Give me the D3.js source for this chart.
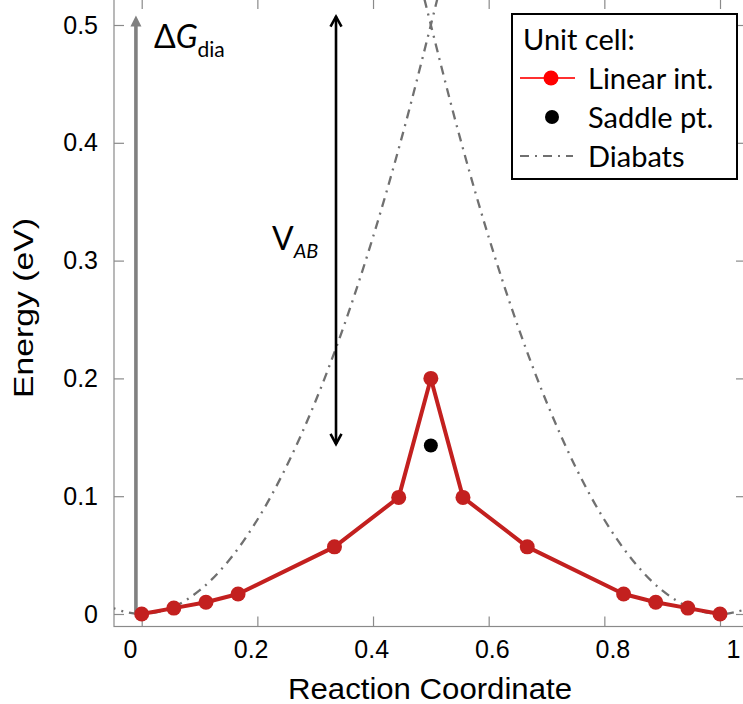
<!DOCTYPE html>
<html>
<head>
<meta charset="utf-8">
<script src="https://cdn.jsdelivr.net/npm/d3@7"></script>
<style>
  html, body { margin: 0; padding: 0; background: #fff; }
  svg { display: block; }
</style>
</head>
<body>
<svg id="chart" width="743" height="704"></svg>
<script>
// ---------- data ----------
const linearX = [0, 1/18, 2/18, 3/18, 6/18, 8/18, 9/18, 10/18, 12/18, 15/18, 16/18, 17/18, 1];
const linearE = [0, 0.005, 0.010, 0.017, 0.057, 0.099, 0.200, 0.099, 0.057, 0.017, 0.010, 0.005, 0];
const saddleX = [0.5];
const saddleE = [0.143];
const diabatAX = [-0.06, -0.03, 0, 0.05, 0.1, 0.15, 0.2, 0.25, 0.3, 0.35, 0.4, 0.45, 0.5, 0.53];
const diabatAE = [0.007, 0.002, 0, 0.005, 0.02, 0.045, 0.08, 0.125, 0.18, 0.245, 0.32, 0.405, 0.50, 0.56];
const diabatBX = [0.47, 0.5, 0.55, 0.6, 0.65, 0.7, 0.75, 0.8, 0.85, 0.9, 0.95, 1, 1.03, 1.06];
const diabatBE = [0.56, 0.50, 0.405, 0.32, 0.245, 0.18, 0.125, 0.08, 0.045, 0.02, 0.005, 0, 0.002, 0.007];
const xTicks = [0, 0.2, 0.4, 0.6, 0.8, 1];
const yTicks = [0, 0.1, 0.2, 0.3, 0.4, 0.5];
const legendLabels = ["Linear int.", "Saddle pt.", "Diabats"];
const legendTitle = "Unit cell:";
// annotation arrows in data units
const dGArrow = { x: -0.01, from: 0, to: 0.508 };
const vabArrow = { x: 0.336, from: 0.508, to: 0.1435 };

// ---------- layout ----------
const svg = d3.select("#chart");
const frame = { left: 114, right: 746, top: -1, bottom: 626.5 };
const x = d3.scaleLinear().domain([0, 1]).range([141.7, 720]);
const xLabel = d3.scaleLinear().domain([0, 1]).range([130, 733]);
const y = d3.scaleLinear().domain([0, 0.5]).range([614, 25]);

const axisColor = "#8a8a8a";
const redDark = "#c3201f";
const arialFont = "'Liberation Sans', Arial, sans-serif";

svg.append("defs").append("clipPath").attr("id", "clip")
  .append("rect").attr("x", frame.left).attr("y", frame.top)
  .attr("width", frame.right - frame.left).attr("height", frame.bottom - frame.top);

// frame
svg.append("rect")
  .attr("x", frame.left).attr("y", frame.top)
  .attr("width", frame.right - frame.left).attr("height", frame.bottom - frame.top)
  .attr("fill", "none").attr("stroke", axisColor).attr("stroke-width", 1.2);

function styleAxis(g) {
  g.select(".domain").remove();
  g.selectAll(".tick line").attr("stroke", axisColor).attr("stroke-width", 1.2);
  g.selectAll(".tick text").attr("fill", "#000")
    .style("font-family", arialFont).style("font-size", "25px");
}

// bottom ticks (inward)
svg.append("g").attr("transform", `translate(0,${frame.bottom})`)
  .call(d3.axisBottom(x).tickValues(xTicks).tickSizeInner(-10).tickSizeOuter(0).tickFormat(""))
  .call(styleAxis);
// bottom labels
svg.append("g").attr("transform", `translate(0,${frame.bottom})`)
  .call(d3.axisBottom(xLabel).tickValues(xTicks).tickSize(0).tickPadding(14).tickFormat(d3.format("~g")))
  .call(styleAxis)
  .call(g => g.selectAll(".tick line").remove());
// top ticks
svg.append("g").attr("transform", `translate(0,${frame.top})`)
  .call(d3.axisTop(x).tickValues(xTicks).tickSizeInner(-10).tickSizeOuter(0).tickFormat(""))
  .call(styleAxis);
// left
svg.append("g").attr("transform", `translate(${frame.left},0)`)
  .call(d3.axisLeft(y).tickValues(yTicks).tickSizeInner(-10).tickSizeOuter(0).tickPadding(16)
    .tickFormat(d => d === 0 ? "0" : d3.format(".1f")(d)))
  .call(styleAxis);
// right
svg.append("g").attr("transform", `translate(${frame.right},0)`)
  .call(d3.axisRight(y).tickValues(yTicks).tickSizeInner(-10).tickSizeOuter(0).tickFormat(""))
  .call(styleAxis);

// axis titles
svg.append("text")
  .attr("x", 430).attr("y", 699).attr("text-anchor", "middle")
  .attr("textLength", 284).attr("lengthAdjust", "spacingAndGlyphs")
  .style("font-family", arialFont).style("font-size", "29px")
  .text("Reaction Coordinate");
svg.append("text")
  .attr("transform", "translate(33,308) rotate(-90)").attr("text-anchor", "middle")
  .attr("textLength", 180).attr("lengthAdjust", "spacingAndGlyphs")
  .style("font-family", arialFont).style("font-size", "28px")
  .text("Energy (eV)");

// ---------- data marks ----------
const plot = svg.append("g").attr("clip-path", "url(#clip)");

const diabatLine = d3.line().x(d => x(d[0])).y(d => y(d[1])).curve(d3.curveCatmullRom.alpha(0.5));
[[diabatAX, diabatAE], [diabatBX, diabatBE]].forEach(([xs, es]) => {
  plot.append("path")
    .attr("d", diabatLine(d3.zip(xs, es)))
    .attr("fill", "none").attr("stroke", "#707070").attr("stroke-width", 2.3)
    .attr("stroke-dasharray", "9,6,2,6");
});

// arrows
function arrowHeadFilled(px, tipY, dir, w, h, color) {
  const baseY = tipY - dir * h;
  plot.append("path")
    .attr("d", `M${px},${tipY} L${px - w / 2},${baseY} L${px + w / 2},${baseY} Z`)
    .attr("fill", color);
}
function arrowHeadOpen(px, tipY, dir, w, h, color) {
  const baseY = tipY - dir * h;
  plot.append("path")
    .attr("d", `M${px - w / 2},${baseY} L${px},${tipY} L${px + w / 2},${baseY}`)
    .attr("fill", "none").attr("stroke", color).attr("stroke-width", 2.6)
    .attr("stroke-linejoin", "miter");
}
// Delta G arrow (grey)
plot.append("line")
  .attr("x1", x(dGArrow.x)).attr("x2", x(dGArrow.x))
  .attr("y1", y(dGArrow.from)).attr("y2", y(dGArrow.to) + 9)
  .attr("stroke", "#808080").attr("stroke-width", 3.6);
arrowHeadFilled(x(dGArrow.x), y(dGArrow.to), -1, 11, 11, "#808080");

// V_AB arrow (black, double headed)
plot.append("line")
  .attr("x1", x(vabArrow.x)).attr("x2", x(vabArrow.x))
  .attr("y1", y(vabArrow.from) + 1).attr("y2", y(vabArrow.to) - 1)
  .attr("stroke", "#000").attr("stroke-width", 2.6);
arrowHeadOpen(x(vabArrow.x), y(vabArrow.from) + 1, -1, 11, 10, "#000");
arrowHeadOpen(x(vabArrow.x), y(vabArrow.to) - 1, 1, 11, 10, "#000");

// linear interpolation
const linData = d3.zip(linearX, linearE);
plot.append("path")
  .attr("d", d3.line().x(d => x(d[0])).y(d => y(d[1]))(linData))
  .attr("fill", "none").attr("stroke", redDark).attr("stroke-width", 4)
  .attr("stroke-linejoin", "round");
plot.selectAll("circle.lin").data(linData).join("circle").attr("class", "lin")
  .attr("cx", d => x(d[0])).attr("cy", d => y(d[1])).attr("r", 7.5).attr("fill", redDark);

// saddle point
plot.selectAll("circle.sad").data(d3.zip(saddleX, saddleE)).join("circle").attr("class", "sad")
  .attr("cx", d => x(d[0])).attr("cy", d => y(d[1])).attr("r", 7).attr("fill", "#000");

// annotations text
const annoFont = "Lato, 'Open Sans', sans-serif";
const dg = svg.append("text").attr("x", 154).attr("y", 48)
  .style("font-family", annoFont).style("font-size", "32px").attr("fill", "#000");
dg.append("tspan").text("Δ");
dg.append("tspan").style("font-style", "italic").text("G");
dg.append("tspan").attr("dy", 9).style("font-size", "21px").text("dia");

const vab = svg.append("text").attr("x", 272).attr("y", 250)
  .style("font-family", annoFont).style("font-size", "32px").attr("fill", "#000");
vab.append("tspan").text("V");
vab.append("tspan").attr("dy", 8).style("font-size", "20px").style("font-style", "italic").text("AB");

// ---------- legend ----------
const lg = svg.append("g");
lg.append("rect").attr("x", 512).attr("y", 14).attr("width", 225).attr("height", 165)
  .attr("fill", "#fff").attr("stroke", "#000").attr("stroke-width", 2);
const legFont = annoFont;
lg.append("text").attr("x", 523).attr("y", 50)
  .style("font-family", legFont).style("font-size", "29px").text(legendTitle);
const rowY = [78, 117, 156];
lg.selectAll("text.item").data(legendLabels).join("text").attr("class", "item")
  .attr("x", 588).attr("y", (d, i) => rowY[i] + 11)
  .style("font-family", legFont).style("font-size", "29px").text(d => d);
// Linear int. sample
lg.append("line").attr("x1", 520).attr("x2", 575).attr("y1", rowY[0]).attr("y2", rowY[0])
  .attr("stroke", "#ff3030").attr("stroke-width", 2);
lg.append("circle").attr("cx", 551).attr("cy", rowY[0]).attr("r", 7.5).attr("fill", "#ff0000");
// Saddle sample
lg.append("circle").attr("cx", 552).attr("cy", rowY[1]).attr("r", 7).attr("fill", "#000");
// Diabats sample
lg.append("line").attr("x1", 520).attr("x2", 573).attr("y1", rowY[2]).attr("y2", rowY[2])
  .attr("stroke", "#707070").attr("stroke-width", 2.2).attr("stroke-dasharray", "9,6,2,6");
</script>
</body>
</html>
